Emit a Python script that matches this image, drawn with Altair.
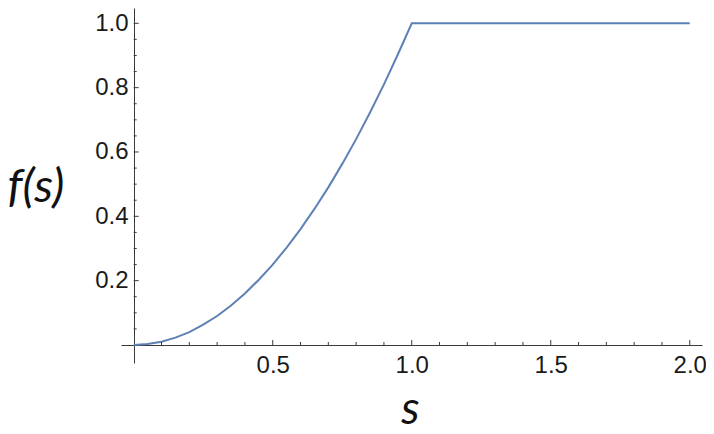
import altair as alt
import pandas as pd

# values
s_vals = [0.0, 0.05, 0.1, 0.15, 0.2, 0.25, 0.3, 0.35, 0.4, 0.45, 0.5,
          0.55, 0.6, 0.65, 0.7, 0.75, 0.8, 0.85, 0.9, 0.95, 1.0, 2.0]
f_vals = [0.0, 0.003, 0.01, 0.023, 0.04, 0.063, 0.09, 0.123, 0.16, 0.203, 0.25,
          0.303, 0.36, 0.423, 0.49, 0.563, 0.64, 0.723, 0.81, 0.903, 1.0, 1.0]

x_tick_labels = [0.5, 1.0, 1.5, 2.0]
y_tick_labels = [0.2, 0.4, 0.6, 0.8, 1.0]
x_minor = [0.1, 0.2, 0.3, 0.4, 0.6, 0.7, 0.8, 0.9, 1.1, 1.2, 1.3, 1.4, 1.6, 1.7, 1.8, 1.9]
y_minor = [0.05, 0.1, 0.15, 0.25, 0.3, 0.35, 0.45, 0.5, 0.55, 0.65, 0.7, 0.75, 0.85, 0.9, 0.95]

df = pd.DataFrame({"s": s_vals, "f": f_vals})
xmaj = pd.DataFrame({"t": x_tick_labels})
xmin = pd.DataFrame({"t": x_minor})
ymaj = pd.DataFrame({"t": y_tick_labels})
ymin = pd.DataFrame({"t": y_minor})

xscale = alt.Scale(domain=[-0.0457, 2.044], nice=False, zero=False)
yscale = alt.Scale(domain=[-0.056, 1.0476], nice=False, zero=False)

AX = "#3a3a3a"
LBL = "#1a1a1a"

xaxis = alt.Axis(
    values=x_tick_labels, format=".1f", ticks=False, tickSize=0, grid=False,
    domainColor=AX, domainWidth=1,
    labelFont="Liberation Sans", labelFontSize=24, labelColor=LBL,
    labelPadding=8, labelBaseline="top", labelFlush=False, labelOverlap=False,
    offset=-18,
    title="s", titleFont="Lato", titleFontStyle="italic", titleFontWeight="normal",
    titleFontSize=46, titleColor="#111111", titleX=289, titleY=78,
    titleAlign="center", titleBaseline="alphabetic")
yaxis = alt.Axis(
    values=y_tick_labels, format=".1f", ticks=False, tickSize=0, grid=False,
    domainColor=AX, domainWidth=1,
    labelFont="Liberation Sans", labelFontSize=24, labelColor=LBL,
    labelPadding=6, labelBaseline="middle", labelFlush=False, labelOverlap=False,
    offset=-13,
    title="f(s)", titleFont="Lato", titleFontStyle="italic", titleFontWeight="normal",
    titleFontSize=47, titleColor="#111111", titleAngle=0, titleX=-127, titleY=193,
    titleAlign="left", titleBaseline="alphabetic")

line = alt.Chart(df).mark_line(color="#5E81B5", strokeWidth=2, clip=True).encode(
    x=alt.X("s:Q", scale=xscale, axis=xaxis),
    y=alt.Y("f:Q", scale=yscale, axis=yaxis),
)

def xticks(data, size):
    return alt.Chart(data).mark_point(shape="M0,0L0,-1", size=size, strokeWidth=1,
                                      color=AX, opacity=1, filled=False).encode(
        x=alt.X("t:Q", scale=xscale, axis=xaxis),
        y=alt.Y(datum=0, scale=yscale, axis=yaxis),
    )

def yticks(data, size):
    return alt.Chart(data).mark_point(shape="M0,0L1,0", size=size, strokeWidth=1,
                                      color=AX, opacity=1, filled=False).encode(
        x=alt.X(datum=0, scale=xscale, axis=xaxis),
        y=alt.Y("t:Q", scale=yscale, axis=yaxis),
    )

chart = alt.layer(
    line, xticks(xmaj, 100), xticks(xmin, 36), yticks(ymaj, 100), yticks(ymin, 36)
).properties(
    width=581, height=355,
    autosize=alt.AutoSizeParams(type="none"),
    padding={"left": 113, "top": 0, "right": 4, "bottom": 75},
).configure_view(stroke=None)

chart.save("out.html", embed_options={"renderer": "svg", "actions": False})
